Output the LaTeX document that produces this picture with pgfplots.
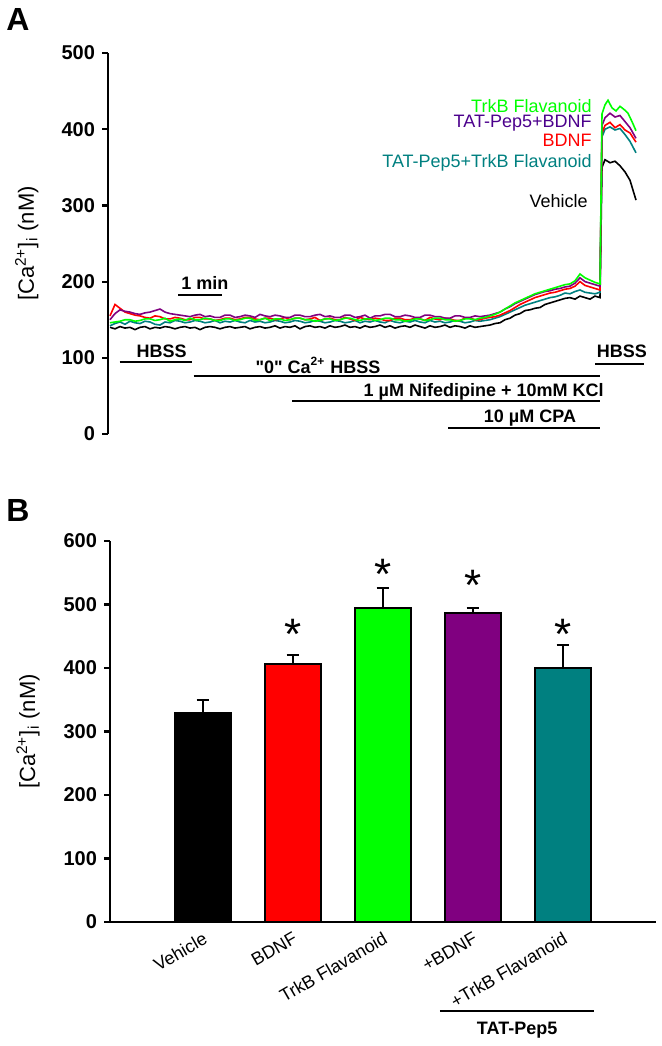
\documentclass[border=0pt]{standalone}
\usepackage{pgfplots}
\pgfplotsset{compat=1.18}
\usepackage{fontspec}
\setmainfont{Liberation Sans}
\definecolor{cgreen}{RGB}{0,255,0}
\definecolor{cred}{RGB}{255,0,0}
\definecolor{cpurple}{RGB}{128,0,128}
\definecolor{cindigo}{RGB}{75,0,140}
\definecolor{cteal}{RGB}{0,128,128}
\newcommand{\ylab}{[Ca\textsuperscript{2+}]\textsubscript{i} (nM)}
\begin{document}
\begin{tikzpicture}
\path[use as bounding box] (0,0) rectangle (331pt,-523pt);
\node[font=\bfseries\fontsize{16}{16}\selectfont] at (9pt,-9.5pt) {A};
\node[font=\bfseries\fontsize{16}{16}\selectfont] at (9pt,-255pt) {B};

\begin{axis}[
  at={(54pt,-217pt)}, anchor=south west, scale only axis,
  width=272.5pt, height=190.5pt,
  xmin=0, xmax=545, ymin=0, ymax=500,
  axis x line=none, axis y line=left,
  axis line style={-, line width=1.1pt},
  ytick={0,100,...,500}, tick align=outside, major tick length=3pt,
  tick style={line width=1.1pt, black},
  /pgf/number format/assume math mode=true,
  yticklabel style={font=\bfseries\fontsize{10}{10}\selectfont},
  every axis y label/.style={at={(axis description cs:-0.149,0.5)}, rotate=90, anchor=center},
  ylabel={\ylab},
  ylabel style={font=\fontsize{11}{11}\selectfont},
  clip=false,
]
\addplot[black, line width=0.8pt] coordinates {
(2,140) (7,138) (12,141) (17,139) (22,140) (27,137) (32,140) (37,141) (42,138) (47,140)
(52,139) (57,141) (62,140) (67,138) (72,140) (77,141) (82,139) (87,140) (92,137) (97,140)
(102,141) (107,140) (112,138) (117,140) (122,141) (127,139) (132,140) (137,141) (142,138) (147,140)
(152,141) (157,139) (162,140) (167,142) (172,139) (177,141) (182,140) (187,142) (192,138) (197,141)
(202,142) (207,140) (212,141) (217,139) (222,142) (227,140) (232,141) (237,143) (242,140) (247,141)
(252,139) (257,142) (262,140) (267,141) (272,143) (277,140) (282,142) (287,139) (292,141) (297,142)
(302,140) (307,143) (312,141) (317,139) (322,142) (327,140) (332,141) (337,143) (342,140) (347,142)
(352,141) (357,139) (362,142) (367,140) (372,141) (377,142) (382,143) (387,145) (392,146) (397,150)
(402,152) (407,156) (412,158) (417,162) (422,163) (427,165) (432,166) (437,170) (442,172) (447,174)
(452,176) (457,178) (462,179) (467,177) (472,181) (477,179) (482,177) (487,181) (492,179)
(494,350) (497,360) (502,356) (507,358) (512,352) (517,344) (522,333) (528,307)};
\addplot[cteal, line width=0.8pt] coordinates {
(2,142) (7,145) (12,147) (17,144) (22,148) (27,146) (32,145) (37,148) (42,147) (47,144)
(52,143) (57,147) (62,146) (67,149) (72,148) (77,146) (82,147) (87,149) (92,148) (97,146)
(102,147) (107,149) (112,146) (117,148) (122,147) (127,149) (132,147) (137,146) (142,149) (147,147)
(152,148) (157,146) (162,147) (167,149) (172,148) (177,146) (182,147) (187,149) (192,148) (197,146)
(202,147) (207,149) (212,148) (217,146) (222,147) (227,149) (232,148) (237,146) (242,147) (247,149)
(252,146) (257,148) (262,147) (267,149) (272,147) (277,146) (282,149) (287,147) (292,146) (297,148)
(302,147) (307,149) (312,147) (317,146) (322,149) (327,147) (332,148) (337,146) (342,147) (347,149)
(352,148) (357,146) (362,147) (367,149) (372,148) (377,149) (382,150) (387,152) (392,154) (397,157)
(402,160) (407,163) (412,166) (417,169) (422,171) (427,173) (432,175) (437,177) (442,179) (447,180)
(452,182) (457,185) (462,184) (467,187) (472,189) (477,186) (482,185) (487,184) (492,186)
(494,390) (497,400) (502,403) (507,399) (512,401) (517,393) (522,384) (528,369)};
\addplot[cred, line width=0.8pt] coordinates {
(2,155) (7,170) (12,165) (17,160) (22,158) (27,156) (32,155) (37,153) (42,152) (47,155)
(52,154) (57,151) (62,151) (67,153) (72,152) (77,150) (82,150) (87,153) (92,153) (97,151)
(102,151) (107,149) (112,150) (117,152) (122,152) (127,150) (132,151) (137,153) (142,153) (147,151)
(152,150) (157,152) (162,152) (167,150) (172,151) (177,153) (182,150) (187,152) (192,152) (197,150)
(202,151) (207,153) (212,149) (217,151) (222,152) (227,150) (232,150) (237,153) (242,151) (247,149)
(252,153) (257,151) (262,150) (267,152) (272,151) (277,149) (282,149) (287,152) (292,152) (297,150)
(302,150) (307,152) (312,151) (317,149) (322,153) (327,151) (332,150) (337,152) (342,151) (347,149)
(352,149) (357,152) (362,152) (367,150) (372,150) (377,152) (382,153) (387,154) (392,156) (397,159)
(402,162) (407,166) (412,170) (417,173) (422,176) (427,179) (432,181) (437,183) (442,185) (447,186)
(452,188) (457,190) (462,191) (467,194) (472,200) (477,195) (482,193) (487,191) (492,189)
(494,395) (497,405) (502,409) (507,402) (512,406) (517,399) (522,395) (528,383)};
\addplot[cpurple, line width=0.8pt] coordinates {
(2,150) (7,158) (12,163) (17,161) (22,160) (27,158) (32,157) (37,159) (42,160) (47,162)
(52,164) (57,160) (62,158) (67,157) (72,156) (77,155) (82,154) (87,156) (92,157) (97,154)
(102,155) (107,153) (112,153) (117,156) (122,156) (127,153) (132,154) (137,156) (142,155) (147,153)
(152,157) (157,155) (162,154) (167,156) (172,155) (177,153) (182,153) (187,156) (192,156) (197,154)
(202,154) (207,156) (212,157) (217,154) (222,155) (227,153) (232,153) (237,156) (242,156) (247,153)
(252,154) (257,156) (262,152) (267,155) (272,155) (277,157) (282,157) (287,154) (292,154) (297,156)
(302,155) (307,153) (312,153) (317,156) (322,156) (327,154) (332,154) (337,152) (342,152) (347,155)
(352,155) (357,153) (362,153) (367,155) (372,154) (377,155) (382,156) (387,158) (392,160) (397,164)
(402,167) (407,171) (412,174) (417,177) (422,180) (427,183) (432,185) (437,187) (442,188) (447,190)
(452,191) (457,193) (462,194) (467,198) (472,205) (477,200) (482,198) (487,196) (492,194)
(494,405) (497,415) (502,421) (507,416) (512,418) (517,410) (522,402) (528,388)};
\addplot[cgreen, line width=0.8pt] coordinates {
(2,146) (7,147) (12,148) (17,150) (22,150) (27,148) (32,149) (37,151) (42,151) (47,149)
(52,150) (57,152) (62,148) (67,150) (72,151) (77,149) (82,152) (87,150) (92,150) (97,152)
(102,151) (107,149) (112,149) (117,151) (122,151) (127,149) (132,150) (137,152) (142,152) (147,149)
(152,150) (157,152) (162,149) (167,151) (172,151) (177,149) (182,150) (187,152) (192,152) (197,150)
(202,150) (207,148) (212,149) (217,151) (222,151) (227,149) (232,150) (237,152) (242,152) (247,150)
(252,149) (257,151) (262,151) (267,149) (272,150) (277,152) (282,152) (287,150) (292,150) (297,148)
(302,149) (307,151) (312,151) (317,149) (322,150) (327,152) (332,152) (337,150) (342,150) (347,148)
(352,149) (357,151) (362,151) (367,150) (372,152) (377,153) (382,155) (387,157) (392,160) (397,164)
(402,168) (407,172) (412,175) (417,178) (422,181) (427,184) (432,186) (437,188) (442,190) (447,192)
(452,194) (457,196) (462,197) (467,201) (472,210) (477,205) (482,202) (487,199) (492,197)
(494,420) (497,432) (500,438) (504,428) (508,424) (512,430) (516,426) (520,421) (524,410) (528,398)};
% annotations
\begin{scope}[line width=1pt]
\draw (axis cs:70,182) -- (axis cs:114,182);
\draw (axis cs:11.6,95) -- (axis cs:84,95);
\draw (axis cs:85.6,76) -- (axis cs:492,76);
\draw (axis cs:184,43) -- (axis cs:492,43);
\draw (axis cs:340,8) -- (axis cs:492,8);
\draw (axis cs:487,92) -- (axis cs:536,92);
\end{scope}
\begin{scope}[every node/.style={font=\bfseries\fontsize{9}{9}\selectfont, inner sep=0pt}]
\node at (axis cs:97,198) {1 min};
\node at (axis cs:53.6,108) {HBSS};
\node at (axis cs:210,90) {\textquotedbl 0\textquotedbl{} Ca\textsuperscript{2+} HBSS};
\node[anchor=east] at (axis cs:496,55) {1 µM Nifedipine + 10mM KCl};
\node at (axis cs:422,21) {10 µM CPA};
\node at (axis cs:514,108) {HBSS};
\end{scope}
\begin{scope}[every node/.style={font=\fontsize{9}{9}\selectfont, inner sep=0pt, anchor=east}]
\node[text=cgreen] at (axis cs:484,430) {TrkB Flavanoid};
\node[text=cindigo] at (axis cs:484,408) {TAT-Pep5+BDNF};
\node[text=cred] at (axis cs:484,385) {BDNF};
\node[text=cteal] at (axis cs:484,356) {TAT-Pep5+TrkB Flavanoid};
\node[text=black] at (axis cs:480,306) {Vehicle};
\end{scope}
\end{axis}

\begin{axis}[
  at={(55pt,-461pt)}, anchor=south west, scale only axis,
  width=273pt, height=190.5pt,
  xmin=-1.033, xmax=5.033, ymin=0, ymax=600,
  axis x line=bottom, axis y line=left,
  axis line style={-, line width=1.1pt},
  ytick={0,100,...,600}, tick align=outside, major tick length=3pt,
  ytick style={line width=1.1pt, black},
  xtick={0,1,2,3,4}, x tick style={draw=none},
  xticklabels={Vehicle, BDNF, TrkB Flavanoid, +BDNF, +TrkB Flavanoid},
  xticklabel style={font=\fontsize{9}{9}\selectfont, rotate=30, anchor=north east, inner sep=1pt},
  /pgf/number format/assume math mode=true,
  yticklabel style={font=\bfseries\fontsize{10}{10}\selectfont},
  every axis y label/.style={at={(axis description cs:-0.150,0.5)}, rotate=90, anchor=center},
  ylabel={\ylab},
  ylabel style={font=\fontsize{11}{11}\selectfont},
  bar width=0.622,
  clip=false,
  error bars/error bar style={line width=1pt, black},
  error bars/error mark options={rotate=90, line width=1pt, black, mark size=3.2pt},
]
\addplot[ybar, fill=black, draw=black, line width=1pt, error bars/.cd, y dir=plus, y explicit] coordinates {(0,328.6) +- (0,21.4)};
\addplot[ybar, fill=cred, draw=black, line width=1pt, error bars/.cd, y dir=plus, y explicit] coordinates {(1,407) +- (0,14)};
\addplot[ybar, fill=cgreen, draw=black, line width=1pt, error bars/.cd, y dir=plus, y explicit] coordinates {(2,494) +- (0,32)};
\addplot[ybar, fill=cpurple, draw=black, line width=1pt, error bars/.cd, y dir=plus, y explicit] coordinates {(3,486) +- (0,9)};
\addplot[ybar, fill=cteal, draw=black, line width=1pt, error bars/.cd, y dir=plus, y explicit] coordinates {(4,400) +- (0,37)};
\begin{scope}[every node/.style={font=\fontsize{22}{22}\selectfont, inner sep=0pt, anchor=north}]
\node at (axis cs:1,477) {*};
\node at (axis cs:2,572) {*};
\node at (axis cs:3,555) {*};
\node at (axis cs:4,477) {*};
\end{scope}
\draw[line width=1pt] (axis cs:2.633,-140) -- (axis cs:4.344,-140);
\node[font=\bfseries\fontsize{9}{9}\selectfont] at (axis cs:3.49,-170) {TAT-Pep5};
\end{axis}
\end{tikzpicture}
\end{document}
